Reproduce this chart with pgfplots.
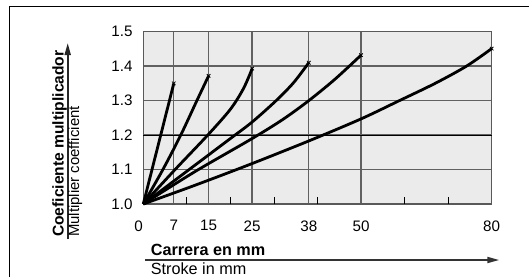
\documentclass[border=0pt]{standalone}
\usepackage{fontspec}
\setmainfont{Liberation Sans}
\usepackage{pgfplots}
\pgfplotsset{compat=1.18}
\usetikzlibrary{arrows.meta}
\begin{document}
\fontsize{15}{18}\selectfont
\begin{tikzpicture}[x=1pt,y=1pt]
\path[use as bounding box] (0,0) rectangle (529,277);
\draw[line width=0.9pt] (529,271) -- (9,271) -- (9,0);
\begin{axis}[at={(143.3pt,73pt)}, anchor=south west, scale only axis,
  width=348.4pt, height=172.3pt,
  xmin=0, xmax=80, ymin=1, ymax=1.5,
  xtick={0,7,15,25,38,50,80}, xticklabels={0\kern9.2pt,7,15,25,38,50,80},
  ytick={1,1.1,1.2,1.3,1.4,1.5}, yticklabels={1.0,1.1,1.2,1.3,1.4,1.5},
  major tick length=0pt,
  xtick pos=left, ytick pos=left,
  grid=major, major grid style={line width=1.4pt, color=black!62},
  axis line style={line width=1.2pt, color=black!65},
  axis background/.style={fill=black!8},
  extra x ticks={10,20,30,40,60,70}, extra x tick labels={},
  extra x tick style={grid=none, major tick length=7pt, tick style={black, line width=0.9pt}},
  xticklabel style={font=\fontsize{15.2}{18}\selectfont, anchor=north, inner sep=0pt, yshift=-16.2pt},
  yticklabel style={font=\fontsize{15.2}{18}\selectfont, anchor=east, inner sep=0pt, xshift=-10.6pt},
  clip=false,
]
\draw[black, line width=0.6pt] (axis cs:0,1.2) -- (axis cs:80,1.2);
\addplot[black, line width=2.8pt, smooth] coordinates {(0,1) (2,1.1) (4,1.2) (6,1.3) (7,1.35)};
\addplot[black, line width=2.8pt, smooth] coordinates {(0,1) (4.5,1.1) (8.6,1.2) (12.3,1.3) (15,1.372)};
\addplot[black, line width=2.8pt, smooth] coordinates {(0,1) (7.3,1.1) (14.8,1.2) (20,1.275) (23,1.335) (25,1.393)};
\addplot[black, line width=2.8pt, smooth] coordinates {(0,1) (10,1.095) (20,1.19) (25,1.238) (30.5,1.3) (34.5,1.352) (38,1.41)};
\addplot[black, line width=2.8pt, smooth] coordinates {(0,1) (12,1.095) (25,1.19) (32,1.245) (38,1.3) (44,1.362) (50,1.432)};
\addplot[black, line width=2.8pt, smooth] coordinates {(0,1) (12,1.055) (24.5,1.115) (38,1.183) (50,1.247) (58.8,1.3) (67,1.35) (74.2,1.4) (80,1.451)};
\addplot[only marks, mark=x, mark size=2.5pt, mark options={line width=0.8pt, black}] coordinates {(7,1.35) (15,1.372) (25,1.393) (38,1.41) (50,1.432) (80,1.451)};
\end{axis}
\draw[line width=1.8pt, black!80, -{Triangle[length=12pt,width=6pt]}] (145.3,17) -- (499.3,17);
\node[anchor=base west, inner sep=0pt, font=\fontsize{16.2}{20}\selectfont\bfseries] at (150.7,22) {Carrera en mm};
\node[anchor=base west, inner sep=0pt, font=\fontsize{16.2}{20}\selectfont] at (150.7,3) {Stroke in mm};
\draw[line width=1.8pt, black!85, -{Triangle[length=12pt,width=6pt]}] (67.7,38) -- (67.7,234);
\node[rotate=90, anchor=base west, inner sep=0pt, font=\fontsize{15.6}{20}\selectfont\bfseries] at (63.5,40) {Coeficiente multiplicador};
\node[rotate=90, anchor=base west, inner sep=0pt, font=\fontsize{14.9}{20}\selectfont] at (79,40) {Multiplier coefficient};
\end{tikzpicture}
\end{document}
